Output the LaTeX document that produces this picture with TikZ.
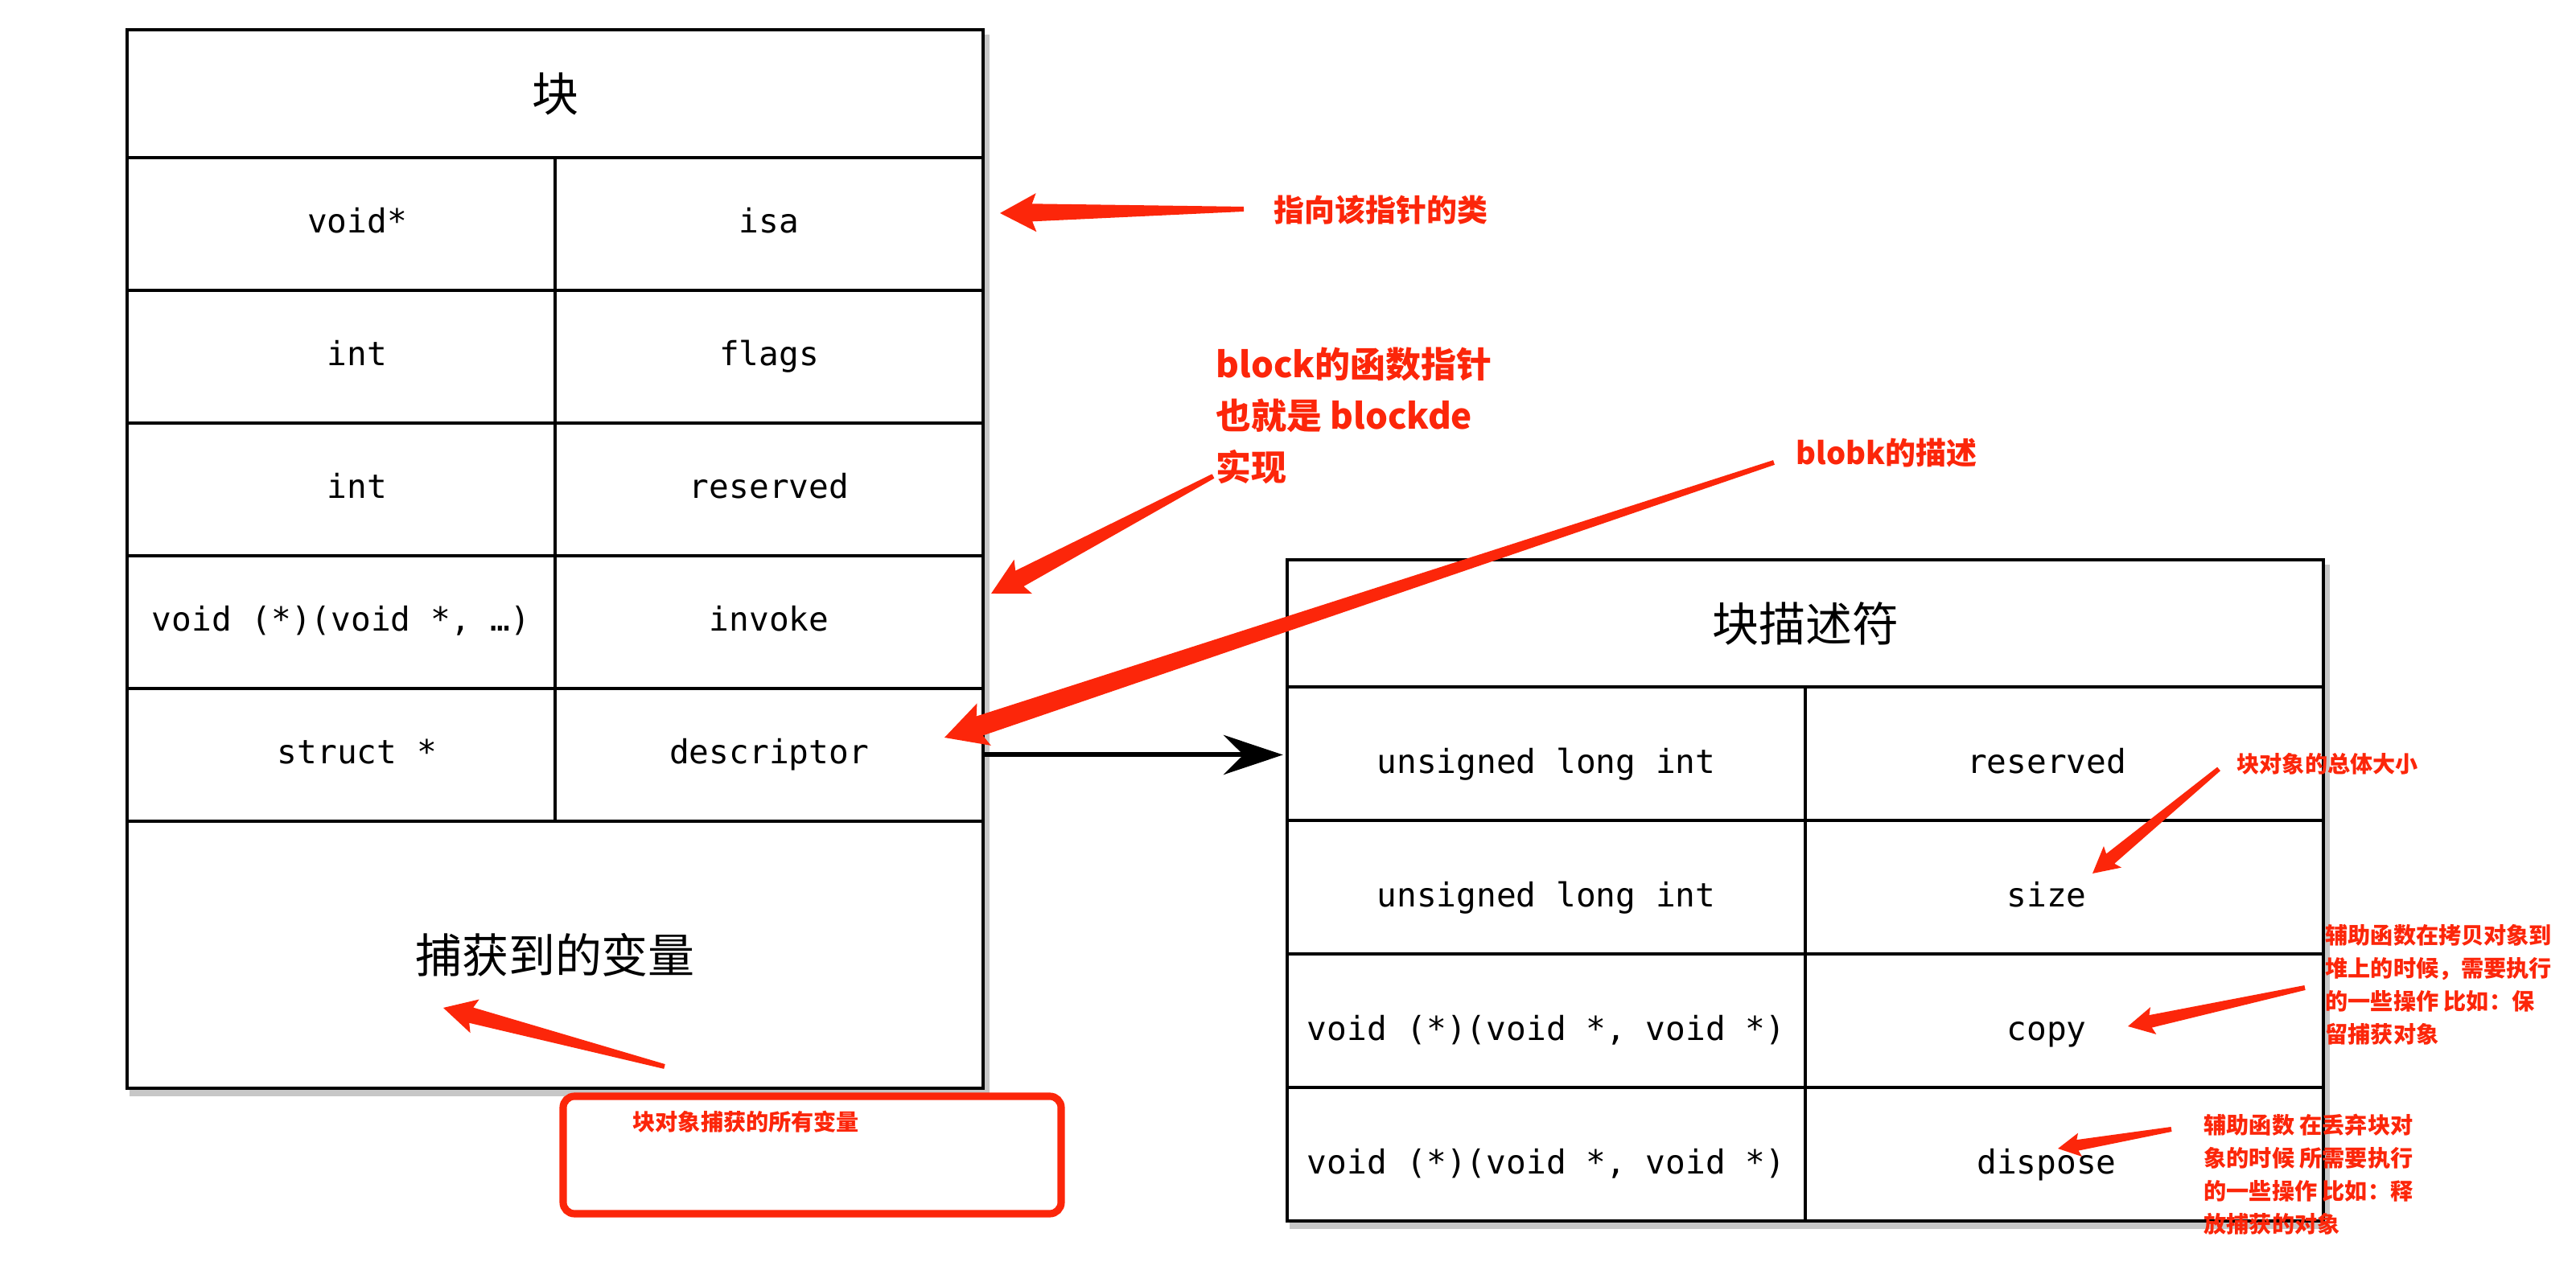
\documentclass[tikz,border=0pt]{standalone}
\usepackage{fontspec}
\newfontfamily\cjk{Noto Sans CJK SC}
\newfontfamily\codefont{DejaVu Sans Mono}
\usetikzlibrary{calc,arrows.meta,backgrounds}
\definecolor{skred}{RGB}{252,38,10}

% tapered red marker arrow: [size]{tail}{tip}
\newcommand\skarrow[3][1]{%
  \pgfmathsetlengthmacro\skh{0.40cm*#1}%
  \pgfmathsetlengthmacro\skb{0.45cm*#1}%
  \pgfmathsetlengthmacro\skw{0.24cm*#1}%
  \pgfmathsetlengthmacro\sks{0.11cm*#1}%
  \coordinate (skj) at ($(#3)!\skh!(#2)$);
  \coordinate (skk) at ($(#3)!\skb!(#2)$);
  \fill[skred] ($(#2)!0.3mm!90:(#3)$) -- ($(skj)!\sks!90:(#3)$) -- ($(skk)!\skw!90:(#3)$)
    -- (#3) -- ($(skk)!\skw!-90:(#3)$) -- ($(skj)!\sks!-90:(#3)$) -- ($(#2)!0.3mm!-90:(#3)$) -- cycle;}

\begin{document}
\begin{tikzpicture}[x=1cm,y=1cm,
    cell/.style={draw, line width=1pt, fill=white, minimum width=5.32cm, minimum height=1.65cm,
      inner sep=0pt, text height=0.32cm, text depth=0.10cm, font=\codefont\fontsize{11.7}{14}\selectfont},
    lval/.style={cell, execute at begin node=\hspace*{0.4cm}},
    rcell/.style={cell, minimum width=6.44cm, minimum height=1.66cm, text height=0.60cm},
    rval/.style={rcell, execute at end node=\hspace*{0.44cm}},
    hcell/.style={draw, line width=1pt, fill=white, inner sep=0pt, font=\cjk\fontsize{16.5}{20}\selectfont},
    note/.style={text=skred, font=\cjk\bfseries\fontsize{8}{11.7}\selectfont, align=left, anchor=west, inner sep=0pt},
    midnote/.style={note, font=\cjk\bfseries\fontsize{10.8}{14}\selectfont},
    bignote/.style={note, font=\cjk\bfseries\fontsize{12.5}{18.2}\selectfont},
    link/.style={-{Stealth[length=21pt,width=14pt,inset=7pt]}, line width=1.7pt, shorten >=1pt},
    tshadow/.style={fill=black!22}]
  \useasboundingbox (0,0) rectangle (32.02,15.74);

  % block layout
  \node[hcell, minimum width=10.64cm, minimum height=1.59cm] (blockT) at (6.90,14.575) {块};
  \node[lval] (isaL) at (4.24,12.955) {void*};
  \node[cell] (isaR) at (9.56,12.955) {isa};
  \node[lval] (flagsL) at (4.24,11.305) {int};
  \node[cell] (flagsR) at (9.56,11.305) {flags};
  \node[lval] (resL) at (4.24,9.655) {int};
  \node[cell] (resR) at (9.56,9.655) {reserved};
  \node[cell] (invL) at (4.24,8.005) {void (*)(void *, …)};
  \node[cell] (invR) at (9.56,8.005) {invoke};
  \node[lval] (descL) at (4.24,6.355) {struct *};
  \node[cell] (descR) at (9.56,6.355) {descriptor};
  \node[hcell, minimum width=10.64cm, minimum height=3.32cm] (capT) at (6.90,3.87) {捕获到的变量};

  % descriptor layout
  \node[hcell, minimum width=12.88cm, minimum height=1.58cm] (descT) at (22.44,7.99) {块描述符};
  \node[rcell] (dresL) at (19.22,6.37) {unsigned long int};
  \node[rval] (dresR) at (25.66,6.37) {reserved};
  \node[rcell] (sizeL) at (19.22,4.71) {unsigned long int};
  \node[rval] (sizeR) at (25.66,4.71) {size};
  \node[rcell] (copyL) at (19.22,3.05) {void (*)(void *, void *)};
  \node[rval] (copyR) at (25.66,3.05) {copy};
  \node[rcell] (dispL) at (19.22,1.39) {void (*)(void *, void *)};
  \node[rval] (dispR) at (25.66,1.39) {dispose};

  \begin{scope}[on background layer]
    \fill[tshadow] ($(blockT.north west)+(0.05,-0.08)$) rectangle ($(capT.south east)+(0.06,-0.08)$);
    \fill[tshadow] ($(descT.north west)+(0.05,-0.08)$) rectangle ($(dispR.south east)+(0.06,-0.08)$);
  \end{scope}

  \draw[link] (descR.east) -- (descR.east -| dresL.west);

  % notes
  \node[midnote] (isaNote) at (15.83,13.13) {指向该指针的类};
  \node[bignote] (invNote) at (15.11,10.57) {block的函数指针\\也就是 blockde\\实现};
  \node[midnote] (descNote) at (22.32,10.11) {blobk的描述};
  \node[note] (sizeNote) at (27.80,6.24) {块对象的总体大小};
  \node[note] (copyNote) at (28.90,3.50) {辅助函数在拷贝对象到\\堆上的时候，需要执行\\的一些操作 比如：保\\留捕获对象};
  \node[note] (dispNote) at (27.39,1.14) {辅助函数 在丢弃块对\\象的时候 所需要执行\\的一些操作 比如：释\\放捕获的对象};
  \node[draw=skred, line width=2.6pt, rounded corners=4pt, minimum width=6.19cm, minimum height=1.46cm] (capBox) at (10.095,1.38) {};
  \node[note] (capNote) at (7.86,1.79) {块对象捕获的所有变量};

  \coordinate (isaTail) at (15.46,13.14);  \coordinate (isaTip) at (12.43,13.09);
  \coordinate (invTail) at (15.08,9.82);   \coordinate (invTip) at (12.32,8.36);
  \coordinate (descTail) at (22.05,9.99);  \coordinate (descTip) at (11.74,6.57);
  \coordinate (sizeTail) at (27.58,6.18);  \coordinate (sizeTip) at (26.01,4.88);
  \coordinate (copyTail) at (28.65,3.46);  \coordinate (copyTip) at (26.45,2.98);
  \coordinate (dispTail) at (26.99,1.70);  \coordinate (dispTip) at (25.58,1.46);
  \coordinate (capTail) at (8.26,2.48);    \coordinate (capTip) at (5.51,3.21);

  \skarrow{isaTail}{isaTip}
  \skarrow{invTail}{invTip}
  \skarrow[1.15]{descTail}{descTip}
  \skarrow[0.72]{sizeTail}{sizeTip}
  \skarrow[0.72]{copyTail}{copyTip}
  \skarrow[0.62]{dispTail}{dispTip}
  \skarrow[0.9]{capTail}{capTip}
\end{tikzpicture}
\end{document}
